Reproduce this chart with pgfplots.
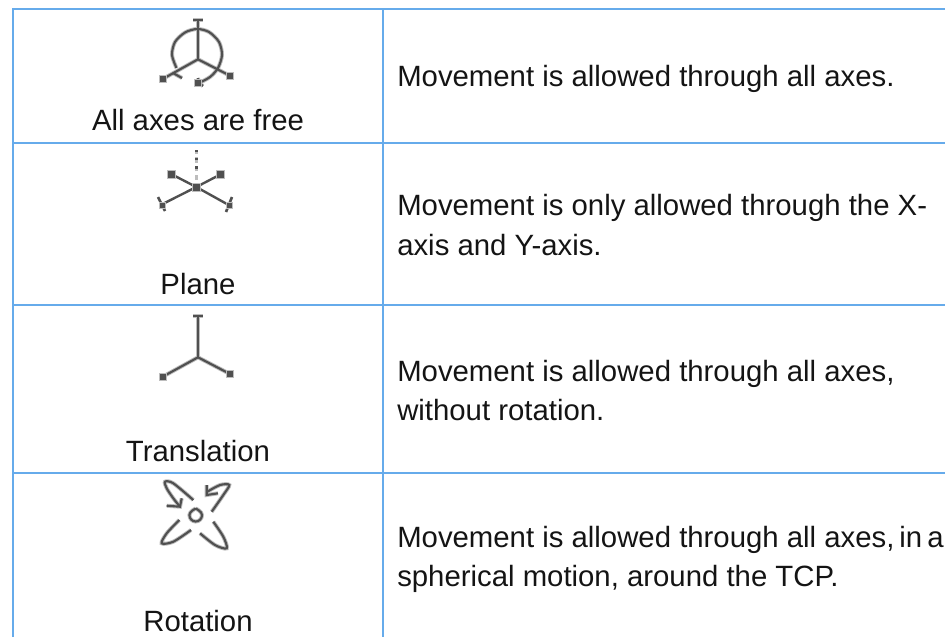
\documentclass[border=0pt]{standalone}
\usepackage{pgfplots}
\pgfplotsset{compat=1.18}
\usepackage{fontspec}
\setmainfont{Liberation Sans}
\definecolor{rule}{HTML}{66ABEB}
\definecolor{ink}{HTML}{141414}
\definecolor{soft}{HTML}{BDBDBD}
\definecolor{hard}{HTML}{505050}
\tikzset{txt/.style={anchor=base west,inner sep=0pt,text=ink,font=\fontsize{22}{26}\selectfont},
ctr/.style={anchor=base,inner sep=0pt,text=ink,font=\fontsize{22}{26}\selectfont}}
\pgfplotsset{
 tbl/.style={rule,line width=1.5pt,forget plot},
 halo/.style={soft,line width=3pt,no markers,forget plot},
 core/.style={hard,line width=1.6pt,no markers,forget plot},
 endm/.style={only marks,mark=square*,mark size=2.8pt,mark options={fill=hard,draw=soft,line width=0.6pt},forget plot},
}
\begin{document}
\begin{tikzpicture}
\path (0,0) rectangle (708.75pt,477.75pt);
\begin{axis}[at={(0,0)},anchor=south west,scale only axis,width=708.75pt,height=477.75pt,
 xmin=0,xmax=945,ymin=0,ymax=637,y dir=reverse,hide axis,clip=true]
% table rules
\addplot[tbl] coordinates {(13,637) (13,9) (945,9)};
\addplot[tbl] coordinates {(383,9) (383,637)};
\addplot[tbl] coordinates {(13,143) (945,143)};
\addplot[tbl] coordinates {(13,304.5) (945,304.5)};
\addplot[tbl] coordinates {(13,473) (945,473)};
% icon 1
\pgfplotsinvokeforeach{halo,core}{
\addplot[#1] coordinates {(198,19) (198,59.3)};
\addplot[#1] coordinates {(193,20) (203,20)};
\addplot[#1] coordinates {(162.7,79) (198,59.3) (230,75.7)};
\addplot[#1,smooth] coordinates {(176.5,68) (172,55) (175,42) (185,32.5) (197,29) (209,32) (219,42) (222,55) (218,68) (210,77) (199,83)};
\addplot[#1] coordinates {(173,73) (182,78)};
\addplot[#1] coordinates {(198,78) (199,83) (203,86)};
}
\addplot[endm] coordinates {(162.7,79) (230,75.7) (198,83)};
% icon 2
\addplot[soft,line width=2pt,dash pattern=on 4pt off 2.5pt,forget plot] coordinates {(196.3,180) (196.3,150)};
\addplot[hard,line width=1.8pt,dash pattern=on 2pt off 4.5pt,forget plot] coordinates {(196.3,169) (196.3,150)};
\addplot[hard,line width=1.8pt,no markers,forget plot] coordinates {(171.7,174.3) (196.3,187) (220.7,174.3)};
\addplot[hard,line width=1.8pt,no markers,forget plot] coordinates {(160.7,205) (196.3,187) (230,205.7)};
\addplot[hard,line width=2pt,no markers,forget plot] coordinates {(158,197) (165,211)};
\addplot[hard,line width=2pt,no markers,forget plot] coordinates {(232,197) (226,212)};
\addplot[endm,mark size=3pt] coordinates {(171.7,174.3) (220.7,174.3) (196.3,187)};
\addplot[endm,mark size=2.2pt] coordinates {(162,205) (229,205)};
% icon 3
\pgfplotsinvokeforeach{halo,core}{
\addplot[#1] coordinates {(198,315) (198,357.3)};
\addplot[#1] coordinates {(193,316) (203,316)};
\addplot[#1] coordinates {(162.7,376.7) (198,357.3) (230,374)};
}
\addplot[endm] coordinates {(163,376.7) (230,374)};
% icon 4
\pgfplotsinvokeforeach{halo,core}{
\addplot[#1,smooth] coordinates {(193.3,500) (173.3,483.3) (165,481.7) (166.7,488.3) (173.3,498.3) (180,506.7)};
\addplot[#1] coordinates {(166.7,505.7) (180,506.7) (181.7,498.3)};
\addplot[#1,smooth] coordinates {(211.7,511.7) (223.3,495) (229.3,485) (220,485) (207.3,491.7)};
\addplot[#1] coordinates {(206.7,485) (206.7,495) (218,493.3)};
\addplot[#1,smooth] coordinates {(179.3,520) (166.7,533.3) (161.7,543.3) (173.3,541.7) (191,530)};
\addplot[#1,smooth] coordinates {(213.3,521.7) (223.3,536.7) (226.7,548.3) (215,545) (200,533.3)};
\addplot[#1,smooth,tension=1] coordinates {(195.7,508.5) (202,515) (195.7,521.5) (189.4,515) (195.7,508.5)};
}
% texts
\node[ctr] at (axis cs:198,130) {All axes are free};
\node[ctr] at (axis cs:198,294) {Plane};
\node[ctr] at (axis cs:198,461) {Translation};
\node[ctr] at (axis cs:198,631) {Rotation};
\node[txt] at (axis cs:397,86) {Movement is allowed through all axes.};
\node[txt] at (axis cs:397,215.5) {Movement is only allowed through the X-};
\node[txt] at (axis cs:397,255.5) {axis and Y-axis.};
\node[txt] at (axis cs:397,381) {Movement is allowed through all axes,};
\node[txt] at (axis cs:397,420.5) {without rotation.};
\node[txt] at (axis cs:397,547) {Movement is allowed through all axes,\hspace{0.17em}in\hspace{0.17em}a};
\node[txt] at (axis cs:397,586.7) {spherical motion, around the TCP.};
\end{axis}
\end{tikzpicture}
\end{document}
